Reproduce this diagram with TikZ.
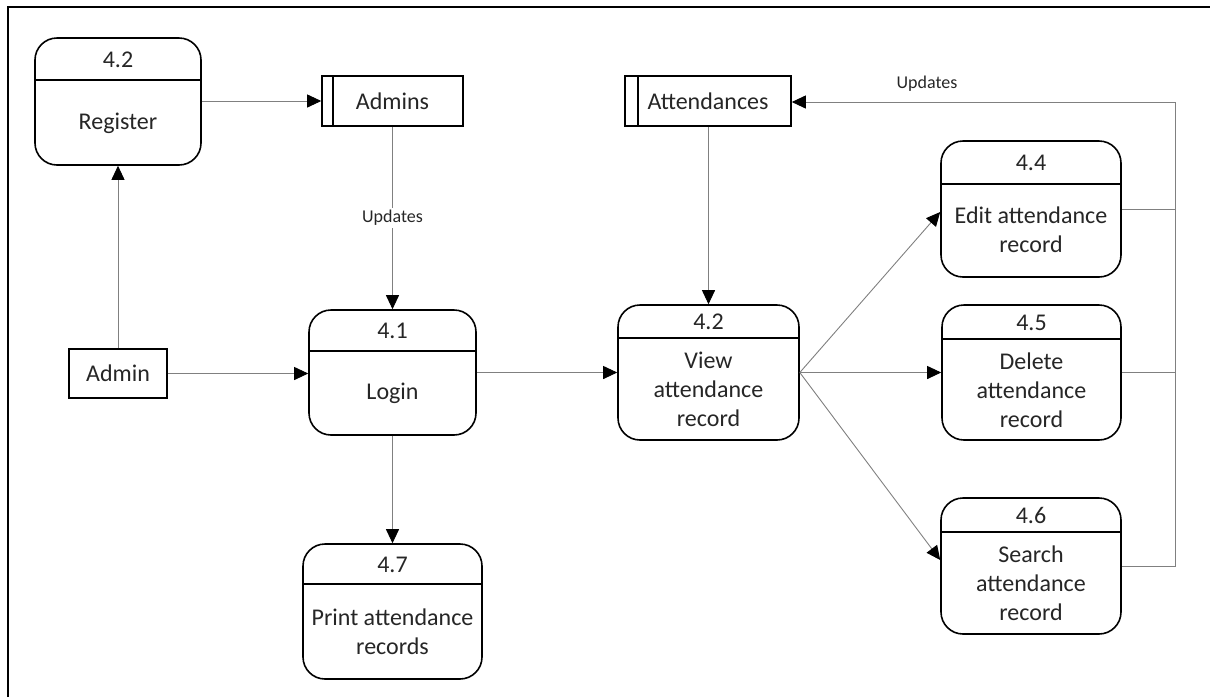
\documentclass[tikz,border=0pt]{standalone}
\usepackage{fontspec}
\setmainfont{Carlito}
\usetikzlibrary{arrows.meta,calc}
\tikzset{
 proc/.style={draw=black, line width=1.6pt, rounded corners=22pt, fill=white, inner sep=0pt},
 divider/.style={draw=black, line width=1.6pt},
 store/.style={draw=black, line width=1.6pt, inner sep=0pt, fill=white, text=black!85, font=\fontsize{24}{29}\selectfont},
 lbl/.style={font=\fontsize{24}{29}\selectfont, align=center, inner sep=0pt, text=black!85},
 small/.style={font=\fontsize{18}{22}\selectfont, inner sep=2pt, fill=white, text=black!85},
 conn/.style={draw=black!50, line width=0.9pt},
 flow/.style={conn, -{Triangle[length=14pt,width=13pt,color=black]}},
 frame/.style={draw=black, line width=1.6pt},
}
\begin{document}
\begin{tikzpicture}[x=1pt,y=-1pt]
\useasboundingbox (0,0) rectangle (1210,697);
% frame
\coordinate (fbl) at (8,697);
\coordinate (ftl) at (8,7);
\coordinate (ftr) at (1210,7);
\draw[frame] (fbl) -- (ftl) -- (ftr);

% processes
\node[proc, minimum width=166pt, minimum height=127pt] (reg) at (118,101.5) {};
\draw[divider] ([yshift=-43pt]reg.north west) -- ([yshift=-43pt]reg.north east);
\node[lbl] (reg-n) at (118,59.5) {4.2};
\node[lbl] (reg-t) at (118,123) {Register};

\node[proc, minimum width=167pt, minimum height=125pt] (login) at (392.5,372.5) {};
\draw[divider] ([yshift=-42pt]login.north west) -- ([yshift=-42pt]login.north east);
\node[lbl] (login-n) at (392.5,331) {4.1};
\node[lbl] (login-t) at (392.5,393.5) {Login};

\node[proc, minimum width=181pt, minimum height=135pt] (view) at (708.5,372.5) {};
\draw[divider] ([yshift=-34pt]view.north west) -- ([yshift=-34pt]view.north east);
\node[lbl] (view-n) at (708.5,322) {4.2};
\node[lbl] (view-t) at (708.5,389.5) {View\\attendance\\record};

\node[proc, minimum width=180pt, minimum height=136pt] (edit) at (1031,209) {};
\draw[divider] ([yshift=-44pt]edit.north west) -- ([yshift=-44pt]edit.north east);
\node[lbl] (edit-n) at (1031,163) {4.4};
\node[lbl] (edit-t) at (1031,230) {Edit attendance\\record};

\node[proc, minimum width=179pt, minimum height=135pt] (del) at (1031.5,372.5) {};
\draw[divider] ([yshift=-35pt]del.north west) -- ([yshift=-35pt]del.north east);
\node[lbl] (del-n) at (1031.5,322.5) {4.5};
\node[lbl] (del-t) at (1031.5,390) {Delete\\attendance\\record};

\node[proc, minimum width=180pt, minimum height=136pt] (search) at (1031,566) {};
\draw[divider] ([yshift=-35pt]search.north west) -- ([yshift=-35pt]search.north east);
\node[lbl] (search-n) at (1031,515.5) {4.6};
\node[lbl] (search-t) at (1031,583.5) {Search\\attendance\\record};

\node[proc, minimum width=179pt, minimum height=135pt] (print) at (392.5,611.5) {};
\draw[divider] ([yshift=-41pt]print.north west) -- ([yshift=-41pt]print.north east);
\node[lbl] (print-n) at (392.5,564.5) {4.7};
\node[lbl] (print-t) at (392.5,632) {Print attendance\\records};

% stores and entity
\node[store, minimum width=141pt, minimum height=50pt] (admins) at (392.5,101) {Admins};
\draw[divider] ([xshift=12pt]admins.north west) -- ([xshift=12pt]admins.south west);
\node[store, minimum width=166pt, minimum height=50pt] (att) at (708,101) {Attendances};
\draw[divider] ([xshift=14pt]att.north west) -- ([xshift=14pt]att.south west);
\node[store, minimum width=98pt, minimum height=49pt] (admin) at (118,373.5) {Admin};

% connectors
\draw[flow] (reg.east |- admins.west) -- (admins.west);
\draw[flow] (admin.north) -- (reg.south);
\draw[flow] (admin.east) -- (admin.east -| login.west);
\draw[flow] (admins.south) -- node[small] (upd1) {Updates} (login.north);
\draw[flow] (login.east) -- (view.west);
\draw[flow] (att.south -| view.north) -- (view.north);
\draw[flow] (login.south) -- (print.north);
\draw[flow] (view.east) -- ([yshift=-3pt]edit.west);
\draw[flow] (view.east) -- (del.west);
\draw[flow] (view.east) -- ([yshift=6pt]search.west);

\coordinate (bustop) at (1175,102);
\draw[conn] (edit.east) -- (edit.east -| bustop);
\draw[conn] (del.east) -- (del.east -| bustop);
\draw[flow] (search.east) -| (bustop) -- (bustop -| att.east);
\node[small, fill=none] (upd2) at (927,84) {Updates};
\end{tikzpicture}
\end{document}
